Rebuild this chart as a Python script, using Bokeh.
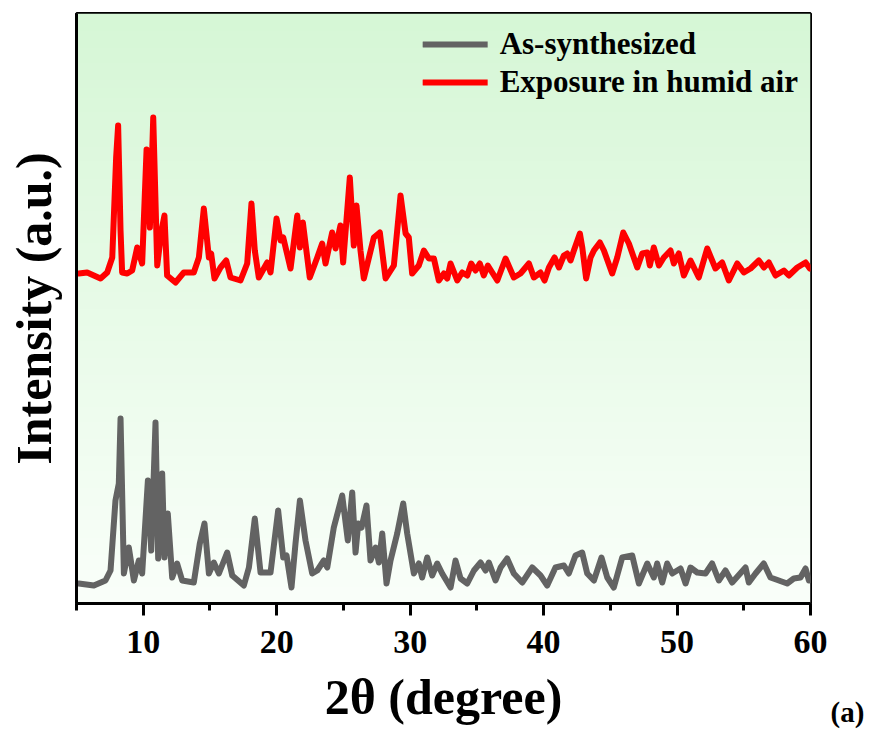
import numpy as np
from bokeh.plotting import figure
from bokeh.models import Range1d, FixedTicker, Label, Legend, LegendItem
from bokeh.embed import file_html
from bokeh.resources import INLINE

# ---------------- data ----------------
two_theta_as = [5.17, 6.30, 7.17, 7.55, 7.92, 8.17, 8.30, 8.55, 8.92, 9.30, 9.67, 9.92,
                10.35, 10.60, 10.92, 11.12, 11.42, 11.59, 11.84, 12.17, 12.54, 12.92,
                13.79, 14.24, 14.59, 14.92, 15.29, 15.67, 16.29, 16.67, 17.54, 17.92,
                18.36, 18.79, 19.54, 20.11, 20.49, 20.74, 21.11, 21.41, 21.74, 22.16,
                22.66, 23.04, 23.53, 23.79, 24.28, 24.91, 25.33, 25.66, 25.91, 26.11,
                26.36, 26.73, 27.03, 27.41, 27.66, 27.91, 28.23, 28.53, 29.03, 29.48,
                29.78, 30.28, 30.65, 30.90, 31.28, 31.65, 32.03, 32.40, 33.03, 33.40,
                33.78, 34.28, 34.78, 35.28, 35.65, 35.90, 36.40, 36.78, 37.27, 37.77,
                38.40, 39.15, 39.77, 40.27, 40.89, 41.52, 41.89, 42.39, 42.89, 43.27,
                43.77, 44.34, 44.77, 45.26, 45.89, 46.64, 47.14, 47.77, 48.26, 48.51,
                48.89, 49.26, 49.64, 50.26, 50.64, 51.01, 51.51, 52.13, 52.63, 53.13,
                53.63, 54.13, 55.13, 55.38, 55.88, 56.50, 57.00, 57.63, 58.25, 58.75,
                59.25, 59.63, 59.88]
int_as = [20, 18, 23, 33, 103, 120, 185, 30, 56, 23, 43, 30,
          123, 53, 181, 45, 130, 46, 90, 26, 40, 23,
          21, 60, 80, 30, 41, 30, 51, 28, 18, 36,
          85, 31, 31, 93, 46, 48, 16, 60, 103, 63,
          30, 33, 43, 36, 76, 108, 63, 111, 51, 80,
          76, 98, 43, 56, 41, 70, 20, 43, 70, 100,
          70, 30, 40, 26, 46, 28, 40, 30, 16, 43,
          25, 20, 33, 41, 33, 41, 23, 36, 45, 30,
          21, 36, 28, 18, 36, 38, 30, 48, 51, 30,
          23, 46, 26, 16, 46, 48, 20, 40, 26, 40,
          21, 40, 30, 35, 20, 36, 31, 30, 40, 23,
          33, 21, 36, 21, 30, 40, 26, 23, 20, 25,
          26, 35, 23]

two_theta_hum = [5.17, 5.80, 6.30, 6.80, 7.30, 7.68, 7.97, 8.12, 8.30, 8.42, 8.80, 9.17,
                 9.55, 9.92, 10.25, 10.50, 10.75, 11.05, 11.37, 11.59, 11.79, 12.42,
                 13.04, 13.79, 14.17, 14.54, 14.92, 15.09, 15.34, 15.79, 16.22, 16.54,
                 17.29, 17.79, 18.11, 18.36, 18.66, 19.29, 19.54, 19.99, 20.29, 20.49,
                 21.04, 21.54, 21.74, 21.96, 22.48, 23.04, 23.41, 23.66, 24.16, 24.41,
                 24.78, 24.98, 25.48, 25.78, 25.98, 26.28, 26.53, 27.28, 27.73, 28.16,
                 28.78, 29.28, 29.66, 29.90, 30.15, 30.65, 31.03, 31.40, 31.78, 32.15,
                 32.53, 32.78, 33.03, 33.53, 33.90, 34.28, 34.58, 34.90, 35.22, 35.52,
                 35.82, 36.15, 36.53, 37.15, 37.77, 38.27, 38.90, 39.27, 39.77, 40.07,
                 40.40, 40.82, 41.15, 41.52, 41.77, 42.02, 42.27, 42.72, 42.90, 43.19,
                 43.52, 43.77, 44.22, 44.52, 45.14, 45.52, 45.97, 46.39, 47.02, 47.39,
                 47.77, 47.96, 48.26, 48.64, 49.01, 49.51, 49.76, 50.13, 50.51, 51.01,
                 51.63, 52.26, 52.88, 53.38, 53.88, 54.51, 55.01, 55.51, 56.13, 56.51,
                 56.88, 57.38, 58.01, 58.38, 59.01, 59.63, 59.95]
int_hum = [30, 31, 28, 25, 31, 46, 146, 178, 73, 31, 30, 33,
           56, 40, 154, 76, 186, 38, 73, 88, 28, 21,
           31, 31, 46, 95, 46, 50, 25, 36, 43, 26,
           23, 40, 100, 53, 26, 41, 31, 85, 63, 66,
           35, 88, 56, 81, 26, 46, 60, 40, 71, 55,
           78, 41, 126, 58, 98, 53, 25, 66, 71, 25,
           38, 108, 70, 66, 30, 38, 53, 45, 45, 23,
           30, 25, 40, 23, 31, 28, 40, 33, 40, 28,
           38, 31, 23, 45, 26, 30, 40, 26, 31, 23,
           36, 46, 36, 48, 50, 43, 53, 70, 56, 25,
           46, 53, 61, 53, 30, 46, 71, 60, 36, 50,
           51, 38, 56, 38, 46, 53, 40, 50, 28, 43,
           26, 55, 35, 41, 23, 40, 31, 35, 43, 36,
           41, 28, 33, 28, 36, 41, 35]
hum_offset = 300  # vertical stacking offset of the humid-air pattern

x_major_ticks = [10, 20, 30, 40, 50, 60]
x_minor_ticks = [5, 15, 25, 35, 45, 55]
x_lim = (5, 60)
y_lim = (0, 590)

series_labels = ["As-synthesized", "Exposure in humid air"]
series_colors = ["#636363", "#ff0000"]

FONT = "Liberation Serif"

# ---------------- figure ----------------
p = figure(width=870, height=729, output_backend="svg", toolbar_location=None,
           x_range=Range1d(*x_lim), y_range=Range1d(*y_lim),
           min_border_left=76, min_border_right=60, min_border_top=13,
           min_border_bottom=126)
p.background_fill_color = "white"
p.border_fill_color = "white"
p.grid.visible = False
p.outline_line_color = "black"
p.outline_line_width = 3
p.outline_line_alpha = 1

# gradient background (light green at top -> near white at bottom)
n = 240
t = np.linspace(0, 1, n)[:, None]
top_c = np.array([214, 247, 214], dtype=float)
bot_c = np.array([250, 255, 250], dtype=float)
cols = bot_c + (top_c - bot_c) * t
img = np.empty((n, 1), dtype=np.uint32)
view = img.view(dtype=np.uint8).reshape((n, 1, 4))
view[:, 0, 0] = cols[:, 0].astype(np.uint8)
view[:, 0, 1] = cols[:, 1].astype(np.uint8)
view[:, 0, 2] = cols[:, 2].astype(np.uint8)
view[:, 0, 3] = 255
p.image_rgba(image=[img], x=x_lim[0], y=y_lim[0],
             dw=x_lim[1] - x_lim[0], dh=y_lim[1] - y_lim[0])

hum_plot = [v + hum_offset for v in int_hum]
r_as = p.line(two_theta_as, int_as, line_width=6, line_color=series_colors[0],
              line_join="round", line_cap="round")
r_hum = p.line(two_theta_hum, hum_plot, line_width=6, line_color=series_colors[1],
               line_join="round", line_cap="round")

legend = Legend(items=[LegendItem(label=series_labels[0], renderers=[r_as]),
                       LegendItem(label=series_labels[1], renderers=[r_hum])],
                location="top_right")
legend.label_text_font = FONT
legend.label_text_font_style = "bold"
legend.label_text_font_size = "31px"
legend.label_text_color = "black"
legend.glyph_width = 65
legend.glyph_height = 38
legend.label_height = 38
legend.label_standoff = 12
legend.spacing = 0
legend.padding = 6
legend.margin = 6
legend.background_fill_alpha = 0
legend.border_line_alpha = 0
p.add_layout(legend)

# x axis
xa = p.xaxis[0]
xa.ticker = FixedTicker(ticks=x_major_ticks, minor_ticks=x_minor_ticks)
xa.axis_line_width = 3
xa.major_tick_line_width = 3
xa.minor_tick_line_width = 3
xa.major_tick_out = 12
xa.major_tick_in = 0
xa.minor_tick_out = 7
xa.minor_tick_in = 0
xa.major_label_text_font = FONT
xa.major_label_text_font_style = "bold"
xa.major_label_text_font_size = "34px"
xa.major_label_text_color = "black"
xa.major_label_standoff = 15
xa.axis_label = "2θ (degree)"
xa.axis_label_text_font = FONT
xa.axis_label_text_font_style = "bold"
xa.axis_label_text_font_size = "50px"
xa.axis_label_text_color = "black"
xa.axis_label_standoff = 13

# y axis
ya = p.yaxis[0]
ya.ticker = FixedTicker(ticks=[])
ya.axis_line_width = 3
ya.major_tick_out = 0
ya.major_tick_in = 0
ya.minor_tick_out = 0
ya.minor_tick_in = 0
ya.major_label_text_font_size = "0px"
ya.axis_label = "Intensity (a.u.)"
ya.axis_label_text_font = FONT
ya.axis_label_text_font_style = "bold"
ya.axis_label_text_font_size = "50px"
ya.axis_label_text_color = "black"
ya.axis_label_standoff = 15

# panel tag, placed in the right side panel so that it is not clipped to the frame
p.add_layout(Label(x=37, y=-108, x_units="screen", y_units="screen", text="(a)",
                   text_font=FONT, text_font_style="bold", text_font_size="29px",
                   text_align="center", text_baseline="middle", text_color="black"),
             "right")

open("out.html", "w").write(file_html(p, INLINE))
